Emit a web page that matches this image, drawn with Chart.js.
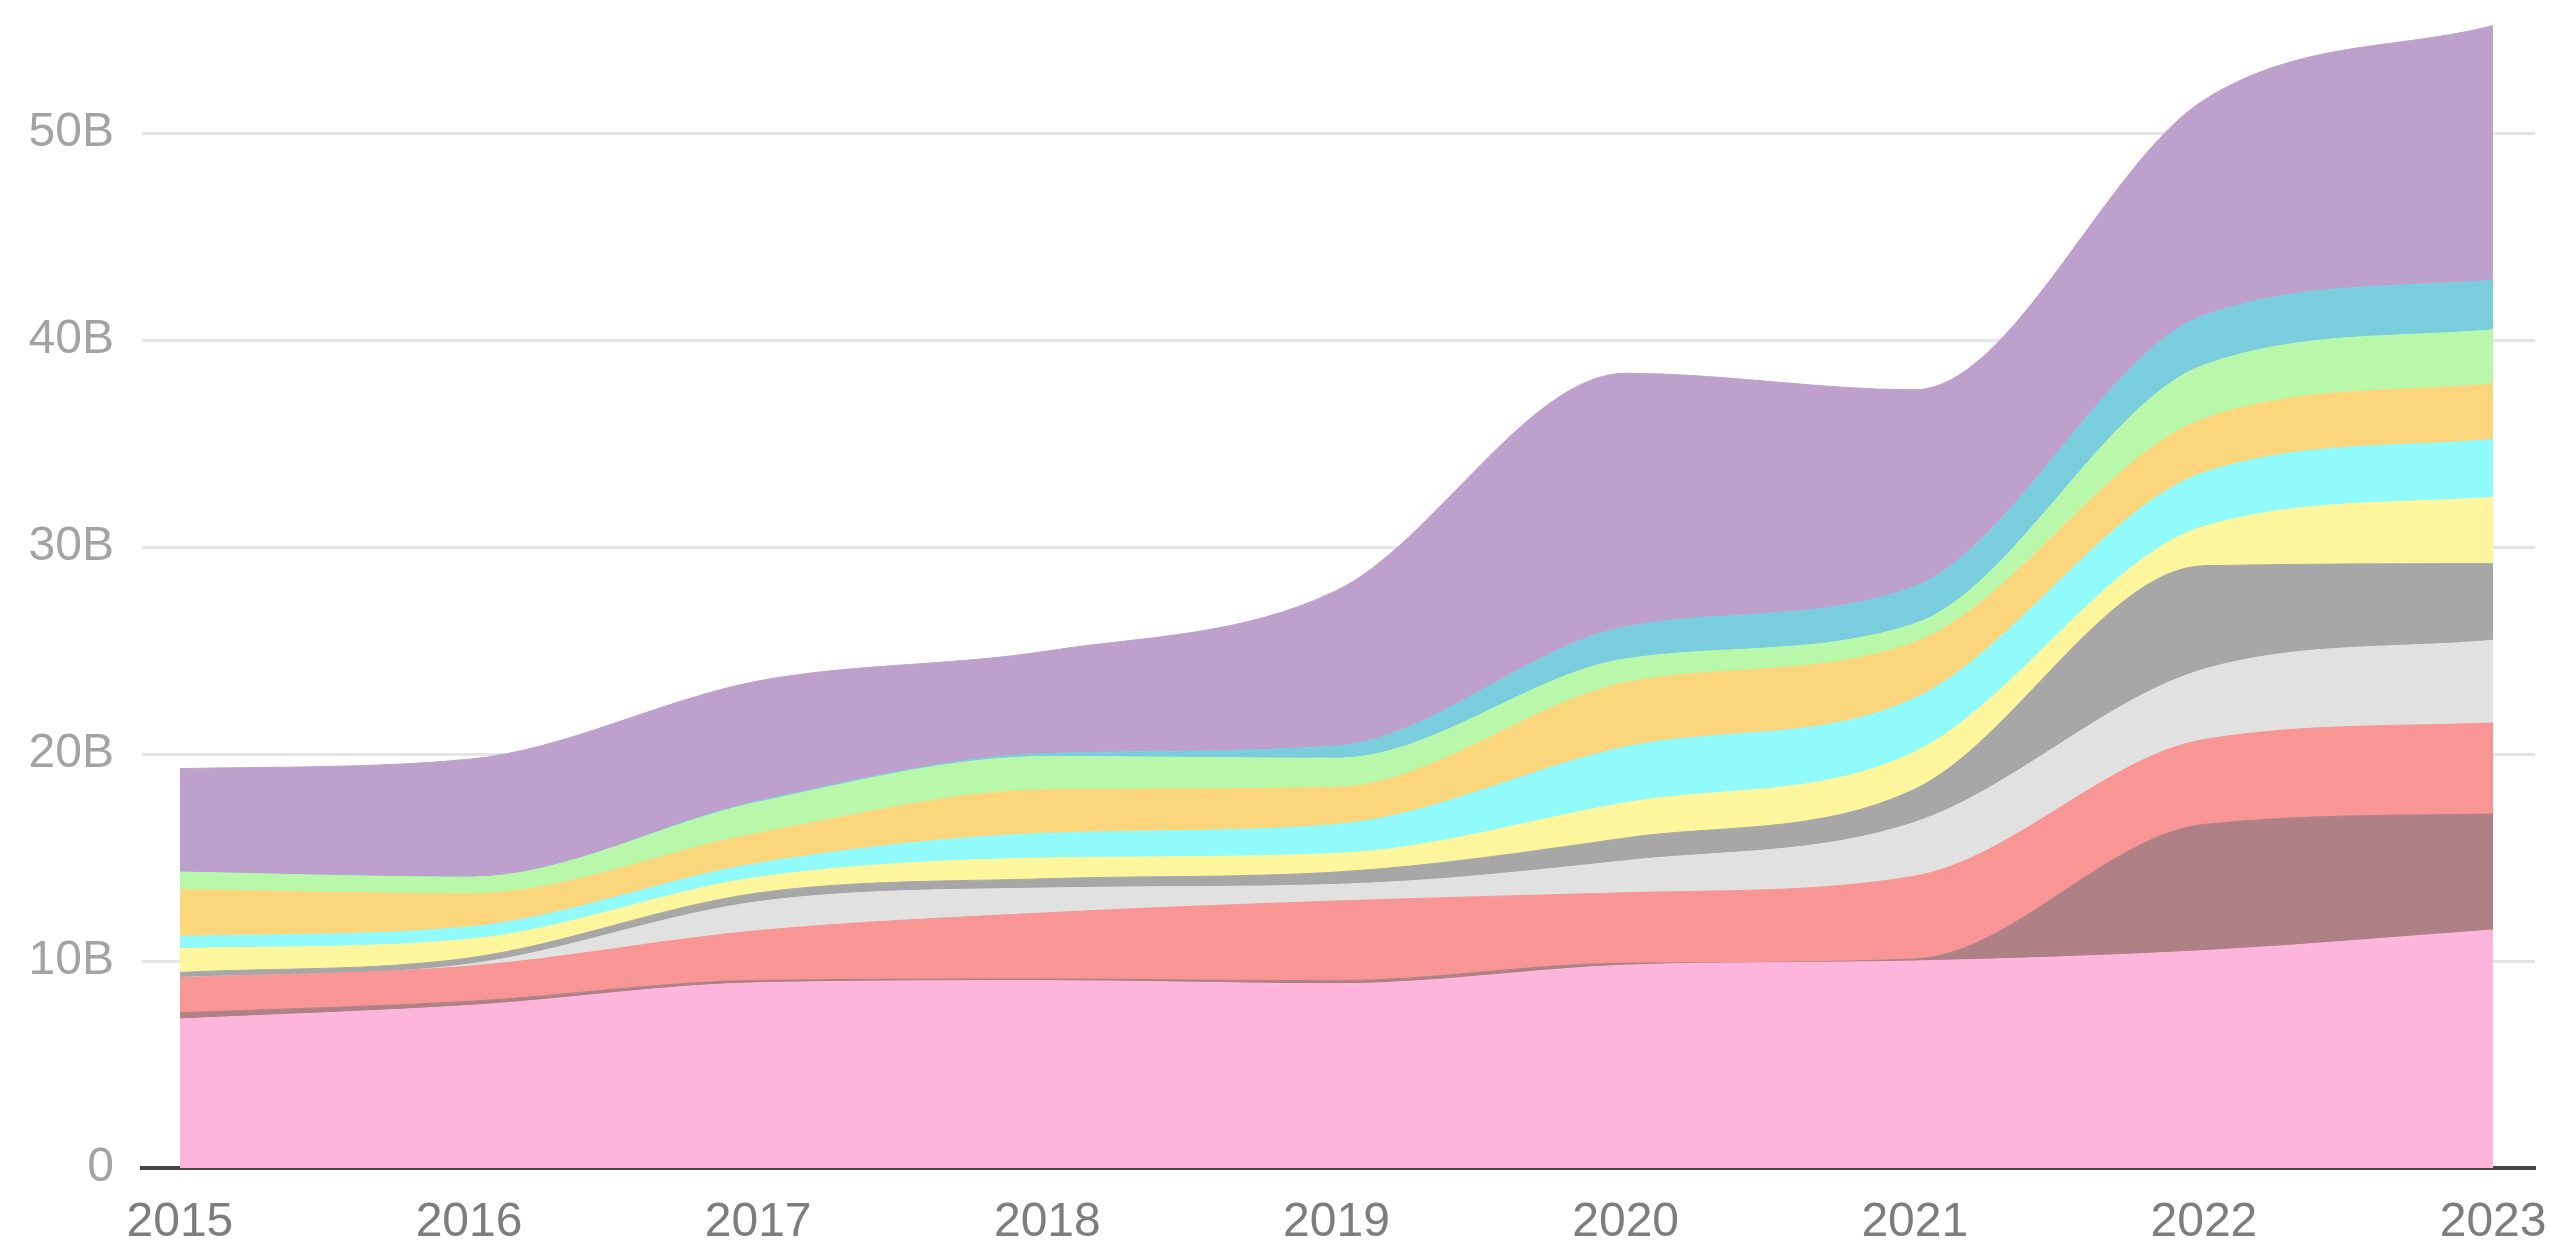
<!DOCTYPE html>
<html>
<head>
<meta charset="utf-8">
<title>Grafico</title>
<script src="https://cdn.jsdelivr.net/npm/chart.js@4.4.1/dist/chart.umd.min.js"></script>
<style>
	html, body { margin: 0; padding: 0; background: #fff; }
	#graficoArea { display: block; }
</style>
</head>
<body>
<canvas id="graficoArea" width="2550" height="1247"></canvas>
<script>
// valores em bilhoes (B), de baixo para cima na pilha
var anos = [2015, 2016, 2017, 2018, 2019, 2020, 2021, 2022, 2023];
var ticksY = [0, 10, 20, 30, 40, 50];

var rosa        = [7.2, 7.85, 8.95, 9.05, 8.9, 9.8, 10.0, 10.5, 11.5];
var malva       = [0.3, 0.2, 0.12, 0.08, 0.15, 0.1, 0.1, 6.1, 5.6];
var salmao      = [1.7, 1.7, 2.4, 3.2, 3.85, 3.4, 4.0, 4.1, 4.4];
var cinzaClaro  = [0, 0.1, 1.4, 1.2, 0.8, 1.55, 2.6, 3.4, 4.0];
var cinzaEscuro = [0.25, 0.3, 0.42, 0.45, 0.6, 1.1, 1.6, 5.0, 3.7];
var amarelo     = [1.15, 0.9, 0.76, 1.0, 0.9, 1.7, 1.8, 1.9, 3.2];
var ciano       = [0.6, 0.6, 0.68, 1.2, 1.4, 2.7, 2.6, 2.6, 2.8];
var laranja     = [2.25, 1.6, 1.45, 2.1, 1.8, 3.1, 2.7, 2.6, 2.7];
var verde       = [0.85, 0.8, 1.5, 1.6, 1.4, 1.15, 0.9, 2.6, 2.6];
var azul        = [0, 0, 0.05, 0.15, 0.6, 1.55, 1.8, 2.4, 2.4];
var roxo        = [5.0, 5.7, 5.8, 4.95, 7.5, 12.25, 9.5, 10.4, 12.3];

var Grafico = Grafico || {};

Grafico.AreaEmpilhada = (function(){

	function AreaEmpilhada(){
		this.ctx = document.getElementById('graficoArea').getContext('2d');
	}

	function serie(valores, cor, primeira){
		return {
			data: valores.map(function(v, i){ return { x: anos[i], y: v }; }),
			backgroundColor: cor,
			borderColor: cor,
			borderWidth: 1,
			fill: primeira ? 'origin' : '-1',
			pointRadius: 0,
			cubicInterpolationMode: 'monotone'
		};
	}

	// tira o espaco extra que o Chart.js reserva para meia etiqueta nas pontas
	function semPadding(scale){
		scale.paddingTop = 0;
		scale.paddingBottom = 0;
		scale.paddingLeft = 0;
		scale.paddingRight = 0;
	}

	AreaEmpilhada.prototype.iniciar = function(){
		var fonte = { family: '"Liberation Sans", Arial, Helvetica, sans-serif', size: 48 };

		new Chart(this.ctx, {
			type: 'line',
			data: {
				datasets: [
					serie(rosa, '#fdb5db', true),
					serie(malva, '#af8086'),
					serie(salmao, '#f89595'),
					serie(cinzaClaro, '#e1e1e1'),
					serie(cinzaEscuro, '#a7a7a7'),
					serie(amarelo, '#fdf69d'),
					serie(ciano, '#91fafb'),
					serie(laranja, '#fcd67c'),
					serie(verde, '#b9f7aa'),
					serie(azul, '#79cddc'),
					serie(roxo, '#bea0cd')
				]
			},
			options: {
				responsive: false,
				animation: false,
				layout: { padding: { top: 9, right: 15, left: 0, bottom: 0 } },
				plugins: {
					legend: { display: false },
					tooltip: { enabled: false }
				},
				scales: {
					x: {
						type: 'linear',
						min: 2014.869,
						max: 2023.145,
						z: 1,
						afterBuildTicks: function(scale){
							scale.ticks = anos.map(function(a){ return { value: a }; });
						},
						afterFit: function(scale){
							scale.height = 79;
							semPadding(scale);
						},
						grid: { display: false, drawTicks: false },
						border: { display: true, color: '#444', width: 4 },
						ticks: {
							font: fonte,
							color: '#7d7d7d',
							padding: 26,
							maxRotation: 0,
							autoSkip: false,
							callback: function(v){ return String(v); }
						}
					},
					y: {
						stacked: true,
						min: 0,
						max: 56,
						z: 1,
						afterBuildTicks: function(scale){
							scale.ticks = ticksY.map(function(t){ return { value: t }; });
						},
						afterFit: function(scale){
							scale.width = 142;
							semPadding(scale);
						},
						grid: { color: 'rgba(0,0,0,0.1)', lineWidth: 3, drawTicks: false },
						border: { display: false },
						ticks: {
							font: fonte,
							color: '#a3a3a3',
							padding: 28,
							callback: function(v){ return v === 0 ? '0' : v + 'B'; }
						}
					}
				}
			}
		});
	};

	return AreaEmpilhada;

}());

window.addEventListener('load', function(){
	var grafico = new Grafico.AreaEmpilhada();
	grafico.iniciar();
});
</script>
</body>
</html>
